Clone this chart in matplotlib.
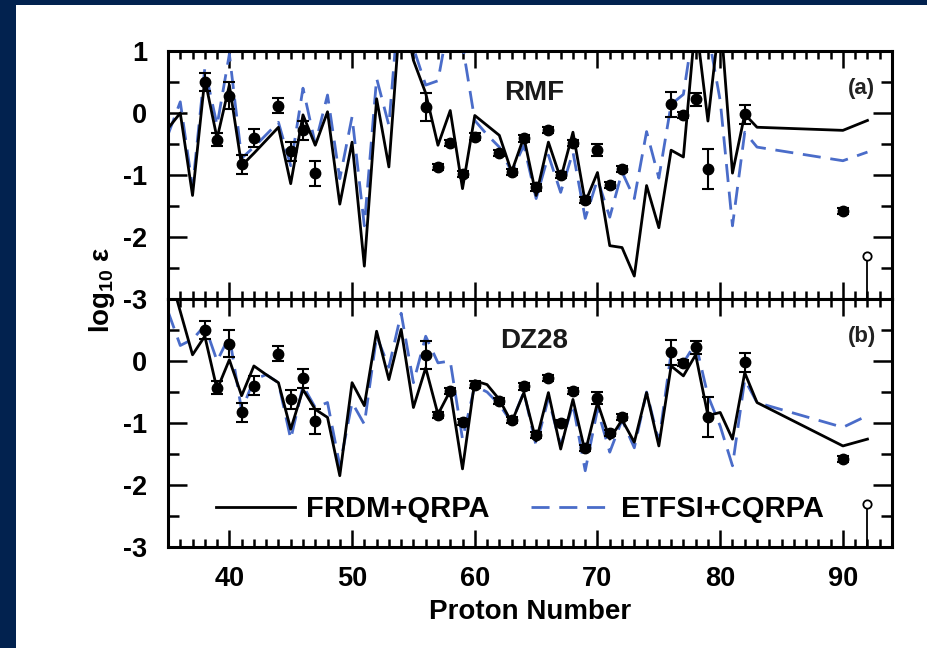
import matplotlib
matplotlib.use('Agg')
import matplotlib.pyplot as plt
from matplotlib.patches import Rectangle
from matplotlib.ticker import MultipleLocator

plt.rcParams['font.family'] = ['Liberation Sans', 'DejaVu Sans']
plt.rcParams['font.weight'] = 'bold'
plt.rcParams['axes.unicode_minus'] = False
plt.rcParams['mathtext.fontset'] = 'custom'
plt.rcParams['mathtext.rm'] = 'Liberation Sans:bold'
plt.rcParams['mathtext.it'] = 'Liberation Sans:bold'
plt.rcParams['mathtext.bf'] = 'Liberation Sans:bold'

# model grid (proton number)
z_model = list(range(35, 84)) + [90, 92]

# panel (a) RMF
frdm_rmf = [-0.25, 0.0, -1.33, 0.55, -0.41, 0.45, -0.85, -0.65, -0.44, -0.23,
            -1.14, -0.03, -0.52, 0.02, -1.47, -0.47, -2.47, 0.23, -0.87, 1.8,
            0.85, 0.32, -0.52, 0.04, -1.22, -0.04, -0.2, -0.36, -0.95, -0.39,
            -1.33, -0.47, -1.06, -0.31, -1.44, -0.96, -2.14, -2.17, -2.63, -1.17,
            -1.85, -0.6, -0.71, 1.5, -0.13, 1.6, -0.97, -0.02, -0.23,
            -0.28, -0.12]
etfsi_rmf = [-0.35, 0.18, -1.2, 0.72, -0.2, 0.95, -0.73, -0.55, -0.35, -0.15,
             -0.85, 0.4, -0.5, 0.29, -1.06, -0.06, -1.82, 0.56, -0.2, 2.2,
             1.05, 0.45, 0.52, 1.6, 1.1, -0.12, -0.35, -0.55, -0.95, -0.52,
             -1.38, -0.68, -1.28, -0.63, -1.7, -1.07, -1.68, -0.95, -1.38, -0.3,
             -1.05, 0.14, 0.3, 1.6, 1.3, 0.2, -1.82, -0.31, -0.55,
             -0.77, -0.63]

# panel (b) DZ28
frdm_dz = [1.5, 0.8, 0.1, 0.4, -0.46, 0.02, -0.56, -0.08, -0.22, -0.35,
           -1.1, -0.46, -0.78, -0.91, -1.85, -0.35, -0.72, 0.48, -0.3, 0.51,
           -0.75, -0.11, -0.86, -0.48, -1.74, -0.32, -0.38, -0.62, -0.99, -0.51,
           -1.29, -0.51, -1.42, -0.62, -1.47, -0.67, -1.26, -0.95, -1.31, -0.51,
           -1.37, -0.08, -0.24, 0.1, -0.88, -0.83, -1.26, -0.19, -0.67,
           -1.37, -1.26]
etfsi_dz = [0.8, 0.25, 0.35, 0.57, 0.0, 0.4, -0.8, -0.3, -0.22, -0.35,
            -1.26, -0.4, -0.75, -0.67, -1.69, -0.67, -1.02, 0.4, -0.1, 0.77,
            -0.35, 0.4, -0.03, 0.0, -1.26, -0.4, -0.5, -0.7, -0.99, -0.5,
            -1.37, -0.6, -1.37, -0.7, -1.77, -0.78, -1.47, -0.95, -1.4, -0.5,
            -1.3, 0.13, -0.03, 0.29, -0.56, -1.05, -1.69, -0.3, -0.67,
            -1.07, -0.88]

# experimental values
z_exp = [38, 39, 40, 41, 42, 44, 45, 46, 47, 56, 57, 58, 59, 60, 62, 63, 64,
         65, 66, 67, 68, 69, 70, 71, 72, 76, 77, 78, 79, 82, 90]
exp_val = [0.5, -0.43, 0.28, -0.83, -0.4, 0.12, -0.62, -0.28, -0.97, 0.1,
           -0.87, -0.49, -0.99, -0.38, -0.64, -0.95, -0.41, -1.2, -0.28, -1.0,
           -0.48, -1.4, -0.6, -1.16, -0.9, 0.14, -0.03, 0.22, -0.9, -0.02, -1.58]
exp_err = [0.15, 0.1, 0.22, 0.15, 0.15, 0.12, 0.15, 0.15, 0.2, 0.23,
           0.05, 0.05, 0.05, 0.05, 0.05, 0.05, 0.05, 0.05, 0.05, 0.05,
           0.05, 0.05, 0.1, 0.05, 0.05, 0.2, 0.05, 0.1, 0.32, 0.15, 0.05]

# upper limit
z_lim = 92
lim_val = -2.3

panels = [('RMF', '(a)', frdm_rmf, etfsi_rmf),
          ('DZ28', '(b)', frdm_dz, etfsi_dz)]

BLUE = '#4a6cc9'
W, H = 928, 648

fig = plt.figure(figsize=(W / 100, H / 100), dpi=100, facecolor='#02224f')
fig.patches.append(Rectangle((16 / W, 0), 1 - 16 / W, 1 - 5 / H,
                             transform=fig.transFigure, facecolor='white',
                             edgecolor='none', zorder=-10))

left, right = 168 / W, 892 / W
top, bottom = 1 - 51 / H, 1 - 547 / H
ph = (top - bottom) / 2

axes = []
for i, (name, tag, frdm, etfsi) in enumerate(panels):
    ax = fig.add_axes([left, top - (i + 1) * ph, right - left, ph])
    axes.append(ax)
    ax.plot(z_model, frdm, color='black', lw=2.0, label='FRDM+QRPA', zorder=3)
    ax.plot(z_model, etfsi, color=BLUE, lw=2.0, dashes=(6.5, 3.5),
            label='ETFSI+CQRPA', zorder=2)
    ax.errorbar(z_exp, exp_val, yerr=exp_err, fmt='o', color='black', ms=7.5,
                capsize=4, capthick=1.5, elinewidth=1.5, zorder=4)
    ax.plot([z_lim, z_lim], [lim_val, -3], color='black', lw=1.3, zorder=4)
    ax.plot([z_lim], [lim_val], 'o', mfc='white', mec='black', ms=6, mew=1.3,
            zorder=5)

    ax.set_xlim(35, 94)
    ax.set_ylim(-3, 1)
    ax.xaxis.set_major_locator(MultipleLocator(10))
    ax.xaxis.set_minor_locator(MultipleLocator(1))
    ax.yaxis.set_major_locator(MultipleLocator(1))
    ax.yaxis.set_minor_locator(MultipleLocator(0.5))
    ax.tick_params(which='both', direction='in', top=True, right=True,
                   width=1.8, labelsize=19.5)
    ax.tick_params(axis='y', which='major', length=14, pad=15)
    ax.tick_params(axis='y', which='minor', length=8)
    ax.tick_params(axis='x', which='major', length=12, pad=14)
    ax.tick_params(axis='x', which='minor', length=6)
    for s in ax.spines.values():
        s.set_linewidth(2.2)
    for lab in ax.get_xticklabels() + ax.get_yticklabels():
        lab.set_fontweight('bold')

    ax.text(0.506, 0.83, name, transform=ax.transAxes, ha='center',
            va='center', fontsize=20, fontweight='bold', color='#1a1a1a')
    ax.text(0.958, 0.85, tag, transform=ax.transAxes, ha='center',
            va='center', fontsize=16, fontweight='bold', color='#222222')

axes[0].tick_params(labelbottom=False)
axes[1].set_yticks([0, -1, -2, -3])

leg = axes[1].legend(loc='center', bbox_to_anchor=(520 / W, 1 - 509 / H),
                     bbox_transform=fig.transFigure, ncol=2, frameon=False,
                     fontsize=21, handlelength=2.7, handletextpad=0.4,
                     columnspacing=1.4)
for t in leg.get_texts():
    t.set_fontweight('bold')

fig.text(530 / W, 1 - 612 / H, 'Proton Number', ha='center', va='center',
         fontsize=20, fontweight='bold')
fig.text(102 / W, 1 - 290 / H, r'log$_{10}$ ε', ha='center', va='center',
         rotation=90, fontsize=20, fontweight='bold')

fig.savefig('out.png', dpi=100, facecolor=fig.get_facecolor())
